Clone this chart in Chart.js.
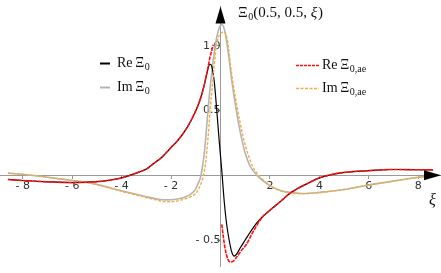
<!DOCTYPE html>
<html>
<head>
<meta charset="utf-8">
<script src="https://cdn.jsdelivr.net/npm/chart.js@4"></script>
<style>
    html, body { margin: 0; padding: 0; background: #fff; }
    #xi-chart { display: block; }
</style>
</head>
<body>
<canvas id="xi-chart" width="441" height="273"></canvas>
<script>
/**
 * Xi_0(0.5, 0.5, xi) - exact vs. asymptotic expansion
 */
(function() {
    'use strict';

    // Re Xi_0 (black).
    var xiRe = [-8.6, -8, -7, -6, -5.4, -5, -4.5, -4, -3.66, -3.3, -3, -2.7, -2.4, -2, -1.7, -1.4, -1.2, -1, -0.85, -0.7,
        -0.55, -0.43, -0.35, -0.25, -0.15, -0.05, 0.05, 0.15, 0.25, 0.35, 0.45, 0.55, 0.65, 0.8, 1, 1.2, 1.5, 2, 2.5, 2.8,
        3, 3.5, 4, 4.36, 5, 5.6, 6, 7, 8, 8.6];
    var reXi0 = [-0.032, -0.04, -0.05, -0.056, -0.053, -0.049, -0.038, -0.02, 0, 0.025, 0.048, 0.092, 0.135, 0.215, 0.275, 0.355, 0.42, 0.5, 0.57, 0.665,
        0.79, 0.86, 0.84, 0.72, 0.5, 0.26, 0.04, -0.2, -0.38, -0.5, -0.59, -0.625, -0.61, -0.56, -0.5, -0.44, -0.36, -0.27, -0.19, -0.14,
        -0.115, -0.065, -0.02, 0, 0.022, 0.032, 0.036, 0.045, 0.043, 0.042];

    // Re Xi_0,ae (red dotted), broken near the origin.
    var xiReAe = [-8.6, -8, -7, -6, -5.4, -5, -4.5, -4, -3.66, -3.3, -3, -2.7, -2.4, -2, -1.7, -1.4, -1.2, -1, -0.85, -0.7,
        -0.55, -0.49, -0.43, -0.36, -0.29, 0, 0.05, 0.18, 0.3, 0.4, 0.5, 0.66, 0.85, 1.06, 1.25, 1.46,
        1.7, 2, 2.5, 2.8, 3, 3.5, 4, 4.36, 5, 5.6, 6, 7, 8, 8.6];
    var reXiAe = [-0.032, -0.04, -0.05, -0.056, -0.053, -0.049, -0.038, -0.02, 0, 0.025, 0.048, 0.092, 0.135, 0.215, 0.275, 0.355, 0.42, 0.5, 0.57, 0.665,
        0.79, 0.85, 0.91, 0.96, 1.01, null, -0.38, -0.56, -0.65, -0.67, -0.665, -0.63, -0.58, -0.53, -0.46, -0.39,
        -0.32, -0.27, -0.19, -0.14, -0.115, -0.065, -0.02, 0, 0.022, 0.032, 0.036, 0.045, 0.043, 0.042];

    // Im Xi_0 (gray).
    var xiIm = [-8.6, -8, -7, -6, -5.4, -5, -4, -3, -2.5, -2.2, -1.8, -1.4, -1.2, -1, -0.9, -0.83, -0.75, -0.65, -0.55, -0.45,
        -0.35, -0.25, -0.15, -0.05, 0.03, 0.12, 0.2, 0.32, 0.45, 0.6, 0.75, 0.86, 1, 1.2, 1.45, 1.7, 2, 2.4, 2.8, 3.3,
        4, 5, 6, 7, 8, 8.6];
    var imXi0 = [0.017, 0.008, -0.015, -0.04, -0.055, -0.07, -0.12, -0.165, -0.185, -0.19, -0.185, -0.165, -0.145, -0.105, -0.06, -0.03, 0.04, 0.18, 0.4, 0.62,
        0.8, 0.95, 1.07, 1.14, 1.165, 1.15, 1.09, 0.94, 0.74, 0.55, 0.38, 0.28, 0.17, 0.07, 0.005, -0.04, -0.08, -0.115, -0.132, -0.14,
        -0.132, -0.11, -0.075, -0.045, -0.015, -0.005];

    // Im Xi_0,ae (orange dashed).
    var xiImAe = [-8.6, -8, -7, -6, -5.4, -5, -4, -3, -2.5, -2.2, -1.8, -1.4, -1.2, -1, -0.9, -0.8, -0.7, -0.6, -0.5, -0.42,
        -0.3, -0.2, -0.1, 0, 0.07, 0.14, 0.22, 0.3, 0.4, 0.5, 0.65, 0.8, 0.95, 1.1, 1.3, 1.5, 1.75, 2, 2.4, 2.8,
        3.3, 4, 5, 6, 7, 8, 8.6];
    var imXiAe = [0.017, 0.008, -0.015, -0.04, -0.055, -0.072, -0.124, -0.172, -0.195, -0.205, -0.2, -0.18, -0.165, -0.14, -0.11, -0.07, -0.01, 0.1, 0.3, 0.5,
        0.75, 0.95, 1.06, 1.095, 1.105, 1.11, 1.09, 1.02, 0.86, 0.72, 0.55, 0.4, 0.27, 0.17, 0.07, 0.01, -0.04, -0.082, -0.118, -0.135,
        -0.142, -0.134, -0.11, -0.075, -0.045, -0.015, -0.005];

    // Tick labels.
    var xTicks = [-8, -6, -4, -2, 2, 4, 6, 8];
    var yTicks = [-0.5, 0.5, 1.0];

    var SERIF = '"Liberation Serif", "DejaVu Serif", serif';
    var SANS = '"DejaVu Sans", "Liberation Sans", sans-serif';
    var RED = '#ff1010';
    var ORANGE = '#f2ad45';
    var GRAY = '#b4b4b4';

    /**
     * Zip two arrays into {x, y} points.
     */
    function toPoints(xs, ys) {
        return xs.map(function(x, i) {
            return { x: x, y: ys[i] };
        });
    }

    /**
     * Mathematica style minus sign: "- 2".
     */
    function fmt(v, digits) {
        var s = Math.abs(v).toFixed(digits);
        return v < 0 ? '- ' + s : s;
    }

    /**
     * Draw a text run with a subscript, returns the end x.
     */
    function drawSub(ctx, x, y, main, sub, size, italicMain) {
        ctx.font = (italicMain ? 'italic ' : '') + size + 'px ' + SERIF;
        ctx.fillText(main, x, y);
        x += ctx.measureText(main).width;
        if (sub) {
            ctx.font = Math.round(size * 0.68) + 'px ' + SERIF;
            ctx.fillText(sub, x + 0.5, y + size * 0.22);
            x += ctx.measureText(sub).width + 0.5;
        }
        return x;
    }

    /**
     * Short legend sample line.
     */
    function legendLine(ctx, x1, x2, y, color, width, dash) {
        ctx.lineWidth = width;
        ctx.strokeStyle = color;
        ctx.setLineDash(dash);
        ctx.beginPath();
        ctx.moveTo(x1, y);
        ctx.lineTo(x2, y);
        ctx.stroke();
        ctx.setLineDash([]);
    }

    /**
     * Arrows, axis labels and legend.
     */
    var decorations = {
        id: 'decorations',
        afterDraw: function(chart) {
            var ctx = chart.ctx;
            var area = chart.chartArea;
            var x0 = chart.scales.x.getPixelForValue(0);
            var y0 = chart.scales.y.getPixelForValue(0);

            ctx.save();
            ctx.fillStyle = '#000';

            // Axis arrow heads.
            ctx.beginPath();
            ctx.moveTo(area.right, y0);
            ctx.lineTo(area.right - 17, y0 - 5);
            ctx.lineTo(area.right - 17, y0 + 5);
            ctx.closePath();
            ctx.fill();

            ctx.beginPath();
            ctx.moveTo(x0, area.top);
            ctx.lineTo(x0 - 5, area.top + 17);
            ctx.lineTo(x0 + 5, area.top + 17);
            ctx.closePath();
            ctx.fill();

            ctx.fillStyle = '#111';
            ctx.textBaseline = 'alphabetic';
            ctx.textAlign = 'left';

            // Axis labels.
            var tx = drawSub(ctx, 238, 17, '\u039E', '0', 15, false);
            tx = drawSub(ctx, tx, 17, '(0.5, 0.5, ', null, 15, false);
            tx = drawSub(ctx, tx, 17, '\u03BE', null, 15, true);
            drawSub(ctx, tx + 1, 17, ')', null, 15, false);
            drawSub(ctx, 429, 205, '\u03BE', null, 16, true);

            // Legend.
            legendLine(ctx, 100, 110, 63.5, '#000', 2, []);
            legendLine(ctx, 100, 110, 87.5, GRAY, 2, []);
            legendLine(ctx, 296, 319, 65.5, RED, 1.3, [3, 1]);
            legendLine(ctx, 296, 319, 88.5, ORANGE, 1.4, [3, 1.5]);

            ctx.fillStyle = '#111';
            drawSub(ctx, 117, 67, 'Re\u2009\u039E', '0', 14, false);
            drawSub(ctx, 117, 91, 'Im\u2009\u039E', '0', 14, false);
            drawSub(ctx, 322, 69, 'Re\u2009\u039E', '0,ae', 14, false);
            drawSub(ctx, 322, 92, 'Im\u2009\u039E', '0,ae', 14, false);

            ctx.restore();
        }
    };

    /**
     * Build the chart.
     */
    function initChart() {
        var canvas = document.getElementById('xi-chart');
        var ctx = canvas.getContext('2d');

        var line = {
            fill: false,
            pointRadius: 0,
            spanGaps: false,
            cubicInterpolationMode: 'monotone'
        };

        new Chart(ctx, {
            type: 'line',
            data: {
                datasets: [
                    Object.assign({}, line, {
                        label: 'Re Xi0,ae',
                        data: toPoints(xiReAe, reXiAe),
                        borderColor: RED,
                        borderWidth: 1.6,
                        borderDash: [4, 1],
                        order: 1
                    }),
                    Object.assign({}, line, {
                        label: 'Im Xi0,ae',
                        data: toPoints(xiImAe, imXiAe),
                        borderColor: ORANGE,
                        borderWidth: 1.4,
                        borderDash: [3, 1.5],
                        order: 2
                    }),
                    Object.assign({}, line, {
                        label: 'Re Xi0',
                        data: toPoints(xiRe, reXi0),
                        borderColor: '#000',
                        borderWidth: 1.2,
                        order: 3
                    }),
                    Object.assign({}, line, {
                        label: 'Im Xi0',
                        data: toPoints(xiIm, imXi0),
                        borderColor: GRAY,
                        borderWidth: 1.6,
                        order: 4
                    })
                ]
            },
            options: {
                responsive: false,
                animation: false,
                devicePixelRatio: 1,
                layout: { padding: 0 },
                plugins: {
                    legend: { display: false },
                    tooltip: { enabled: false }
                },
                scales: {
                    x: {
                        type: 'linear',
                        min: -8.92,
                        max: 8.92,
                        position: { y: 0 },
                        afterBuildTicks: function(scale) {
                            scale.ticks = xTicks.map(function(v) { return { value: v }; });
                        },
                        grid: {
                            drawOnChartArea: false,
                            drawTicks: true,
                            tickLength: 3,
                            color: '#9a9a9a'
                        },
                        border: { color: '#9a9a9a', width: 1 },
                        ticks: {
                            padding: 1,
                            maxRotation: 0,
                            autoSkip: false,
                            color: '#333',
                            font: { family: SANS, size: 11 },
                            callback: function(v) { return fmt(v, 0); }
                        }
                    },
                    y: {
                        type: 'linear',
                        min: -0.704,
                        max: 1.304,
                        position: { x: 0 },
                        afterBuildTicks: function(scale) {
                            scale.ticks = yTicks.map(function(v) { return { value: v }; });
                        },
                        grid: {
                            drawOnChartArea: false,
                            drawTicks: true,
                            tickLength: 3,
                            color: '#9a9a9a'
                        },
                        border: { color: '#9a9a9a', width: 1 },
                        ticks: {
                            padding: 0,
                            autoSkip: false,
                            color: '#333',
                            font: { family: SANS, size: 11 },
                            callback: function(v) { return fmt(v, 1); }
                        }
                    }
                }
            },
            plugins: [decorations]
        });
    }

    initChart();
})();
</script>
</body>
</html>
